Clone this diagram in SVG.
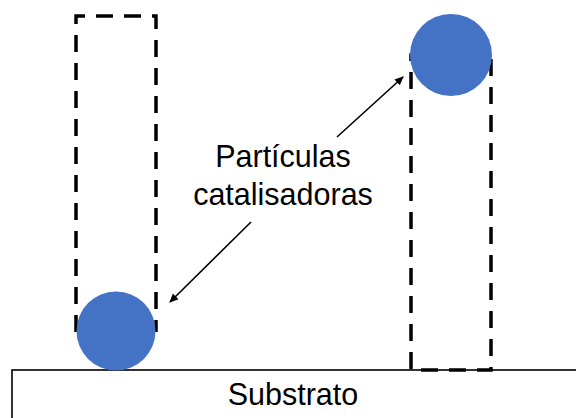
<svg xmlns="http://www.w3.org/2000/svg" width="576" height="418" viewBox="0 0 576 418">
<style>
.col{fill:none;stroke:#000;stroke-width:3.5;stroke-dasharray:17 11}
.ball{fill:#4472C4}
.lbl{font-family:"Liberation Sans",Arial,sans-serif;font-size:30.5px;fill:#000;text-anchor:middle}
.arr{stroke:#000;stroke-width:1.6;fill:none}
</style>
<defs>
<marker id="ah" markerWidth="10" markerHeight="10" refX="8" refY="5" orient="auto" markerUnits="userSpaceOnUse">
<path d="M0,1 L9,5 L0,9 Z" fill="#000"/>
</marker>
</defs>
<g id="substrate">
<rect x="12" y="370" width="580" height="60" fill="#fff" stroke="#000" stroke-width="1.6"/>
<text class="lbl" x="293" y="405">Substrato</text>
</g>
<g id="column-left">
<path class="col" d="M76,332 V16 H156 V332"/>
<circle class="ball" cx="116" cy="331" r="39.5"/>
</g>
<g id="column-right">
<rect class="col" x="411" y="55" width="80" height="315"/>
<circle class="ball" cx="451" cy="55" r="41"/>
</g>
<g id="label">
<text class="lbl" x="283" y="167">Partículas</text>
<text class="lbl" x="283" y="205">catalisadoras</text>
</g>
<g id="connectors">
<line class="arr" x1="337" y1="137" x2="403" y2="77" marker-end="url(#ah)"/>
<line class="arr" x1="251" y1="222" x2="170" y2="302" marker-end="url(#ah)"/>
</g>
</svg>
